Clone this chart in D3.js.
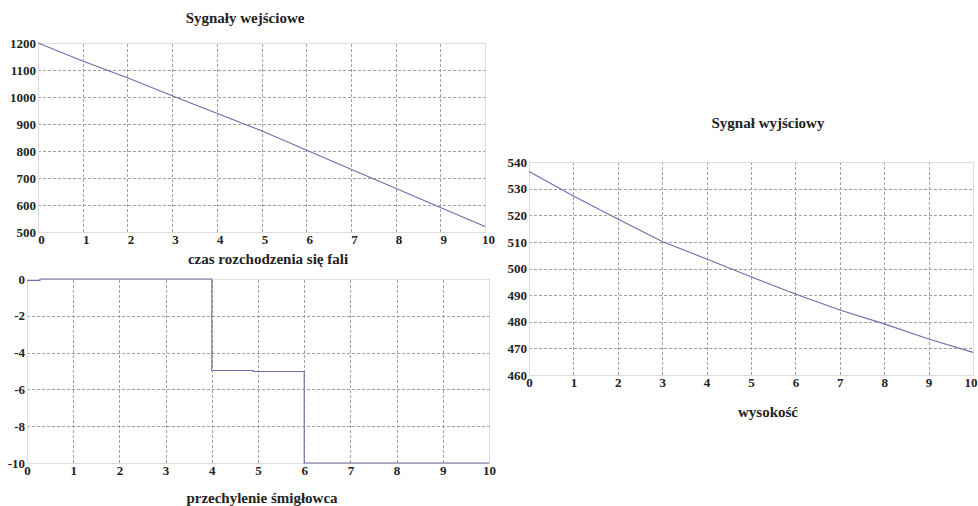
<!DOCTYPE html>
<html lang="pl">
<head>
<meta charset="UTF-8">
<title>Sygnały</title>
<script src="https://d3js.org/d3.v7.min.js"></script>
<style>
  body { margin: 0; background: #fff; }
  svg { display: block; }
  .grid line { stroke: #a0a0a0; stroke-dasharray: 3,2; shape-rendering: crispEdges; }
  .grid path { stroke: none; }
  .tick-lbl text { font-size: 13px; font-weight: bold; fill: #222; }
  .tick-lbl path, .tick-lbl line { display: none; }
  .ttl { font-size: 15px; font-weight: bold; fill: #222; text-anchor: middle; }
  .frame { fill: none; stroke: #dcdcdc; }
  .sig { fill: none; stroke: #6e6ea8; stroke-width: 1.1; }
</style>
</head>
<body>
<div id="chart"></div>
<script>
// x ticks shared by all panels
const xTicks = [0, 1, 2, 3, 4, 5, 6, 7, 8, 9, 10];

// Sygnały wejściowe (czas rozchodzenia się fali)
const inX = [0, 1, 2, 3, 4, 5, 6, 7, 8, 9, 10];
const inY = [1200, 1133, 1071, 1005, 940, 875, 804, 732, 662, 591, 520];
const inTicks = [500, 600, 700, 800, 900, 1000, 1100, 1200];

// przechylenie śmigłowca (step signal)
const tiltX = [0, 0.28, 4, 4.9, 6, 10];
const tiltY = [-0.08, 0, -4.97, -5.03, -10, -10];
const tiltTicks = [-10, -8, -6, -4, -2, 0];

// Sygnał wyjściowy (wysokość)
const outX = [0, 1, 2, 3, 4, 5, 6, 7, 8, 9, 10];
const outY = [536.4, 527.2, 518.6, 510.1, 503.6, 496.9, 490.4, 484.4, 479.2, 473.5, 468.5];
const outTicks = [460, 470, 480, 490, 500, 510, 520, 530, 540];

const fmt = d => String(d);
const SERIF = "'Liberation Serif', 'Times New Roman', 'DejaVu Serif', serif";

const svg = d3.select('#chart').append('svg')
  .attr('width', 978).attr('height', 506);

function panel(o) {
  const x = d3.scaleLinear().domain([0, 10]).range([o.left, o.right]);
  const y = d3.scaleLinear().domain(o.yDomain).range([o.bottom, o.top]);
  const w = o.right - o.left, h = o.bottom - o.top;

  // grid
  svg.append('g').attr('class', 'grid')
    .attr('transform', `translate(0,${o.bottom})`)
    .call(d3.axisBottom(x).tickValues(xTicks).tickSize(-h).tickFormat(''));
  svg.append('g').attr('class', 'grid')
    .attr('transform', `translate(${o.left},0)`)
    .call(d3.axisLeft(y).tickValues(o.yTicks).tickSize(-w).tickFormat(''));

  svg.append('rect').attr('class', 'frame')
    .attr('x', o.left + 0.5).attr('y', o.top + 0.5)
    .attr('width', w).attr('height', h);

  // tick labels
  svg.append('g').attr('class', 'tick-lbl')
    .attr('transform', `translate(${o.left - 2},0)`)
    .call(d3.axisLeft(y).tickValues(o.yTicks).tickSize(0).tickPadding(0).tickFormat(fmt));
  const xl = svg.append('g').attr('class', 'tick-lbl')
    .attr('transform', `translate(${o.xdx || 0},${o.bottom + 1})`)
    .call(d3.axisBottom(x).tickValues(xTicks).tickSize(0).tickPadding(2).tickFormat(fmt));
  if (o.lastEnd) {
    xl.selectAll('.tick').filter(d => d === 10).select('text')
      .attr('text-anchor', 'end').attr('dx', 978 - o.right - 1);
  }

  // line
  const pts = o.xs.map((v, i) => [v, o.ys[i]]);
  svg.append('path').attr('class', 'sig')
    .attr('d', d3.line().x(d => x(d[0])).y(d => y(d[1])).curve(o.curve || d3.curveLinear)(pts));

  // titles
  if (o.title) svg.append('text').attr('class', 'ttl')
    .attr('x', o.titleX).attr('y', o.titleY).text(o.title);
  svg.append('text').attr('class', 'ttl')
    .attr('x', o.xTitleX).attr('y', o.xTitleY).text(o.xTitle);
}

panel({
  left: 38, right: 485, top: 43, bottom: 232,
  yDomain: [500, 1200], yTicks: inTicks, xs: inX, ys: inY, xdx: 3,
  title: 'Sygnały wejściowe', titleX: 245, titleY: 23,
  xTitle: 'czas rozchodzenia się fali', xTitleX: 268, xTitleY: 264
});

panel({
  left: 27, right: 489, top: 279, bottom: 463,
  yDomain: [-10, 0], yTicks: tiltTicks, xs: tiltX, ys: tiltY, curve: d3.curveStepAfter,
  xTitle: 'przechylenie śmigłowca', xTitleX: 262, xTitleY: 503
});

panel({
  left: 529, right: 973, top: 162, bottom: 375,
  yDomain: [460, 540], yTicks: outTicks, xs: outX, ys: outY, lastEnd: true,
  title: 'Sygnał wyjściowy', titleX: 768, titleY: 128,
  xTitle: 'wysokość', xTitleX: 768, xTitleY: 417
});

// serif font on every text, set inline
svg.selectAll('g').attr('font-family', null);
svg.selectAll('text').style('font-family', SERIF);
</script>
</body>
</html>
